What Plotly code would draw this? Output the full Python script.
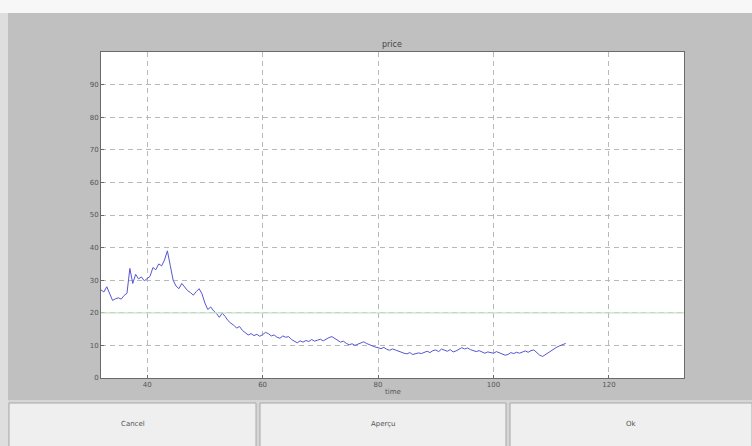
import numpy as np
import plotly.graph_objects as go

# price series sampled every half time unit
t_start = 32.0
t_step = 0.5
price = [
    27.0, 26.4, 28.0, 25.6, 23.8, 24.3, 24.6, 24.2, 25.3, 26.0,
    33.6, 29.0, 31.8, 30.4, 31.0, 29.8, 30.6, 31.2, 33.9, 33.2,
    35.0, 34.4, 36.2, 39.0, 34.5, 30.0, 28.2, 27.4, 29.0, 28.0,
    26.8, 26.2, 25.4, 26.5, 27.4, 25.8, 23.0, 21.0, 21.8, 20.6,
    19.8, 18.6, 19.9, 18.9, 17.6, 16.8, 16.2, 15.3, 15.8, 14.6,
    13.8, 13.2, 13.6, 13.0, 13.4, 12.8, 13.3, 14.0, 13.6, 12.9,
    13.2, 12.5, 12.2, 12.9, 12.5, 12.7, 11.8, 11.2, 10.8, 11.4,
    11.0, 11.5, 11.2, 11.8, 11.3, 11.6, 11.9, 11.4, 12.0, 12.4,
    12.7, 12.1, 11.6, 11.0, 11.3, 10.6, 10.2, 10.5, 10.0, 10.4,
    10.9, 11.1, 10.6, 10.2, 9.8, 9.5, 9.3, 9.0, 9.4, 8.8,
    8.5, 8.9, 8.6, 8.2, 8.0, 7.6, 7.4, 7.8, 7.2, 7.4,
    7.7, 7.5, 7.9, 8.2, 7.8, 8.4, 8.6, 8.1, 8.9, 8.5,
    8.2, 8.7, 8.0, 8.3, 8.8, 9.3, 8.9, 9.2, 8.7, 8.5,
    8.1, 8.4, 7.9, 7.6, 8.0, 7.8, 7.6, 8.1, 7.7, 7.3,
    7.0, 7.2, 7.8, 7.5, 7.9, 7.6, 8.0, 8.3, 7.9, 8.4,
    8.6, 7.8, 7.0, 6.6, 7.2, 7.8, 8.3, 8.8, 9.5, 9.9,
    10.3, 10.6,
]
time = t_start + t_step * np.arange(len(price))

x_ticks = [40, 60, 80, 100, 120]
y_ticks = [0, 10, 20, 30, 40, 50, 60, 70, 80, 90]
buttons = ["Cancel", "Aperçu", "Ok"]

W, H = 752, 446
L, R, T, B = 101, 684, 52, 378  # plot box in pixels


def px(x):
    return (x - L) / (R - L)


def py(y):
    return (B - y) / (B - T)


fig = go.Figure()
fig.add_trace(go.Scatter(
    x=time, y=price, mode="lines",
    line=dict(color="#5656d4", width=1),
    hoverinfo="skip", showlegend=False,
))

shapes = [
    # white strip along the top of the window
    dict(type="rect", xref="paper", yref="paper", x0=px(0), x1=px(W), y0=py(0), y1=py(13),
         fillcolor="#f7f7f7", line=dict(width=0), layer="below"),
    # light strip on the left edge
    dict(type="rect", xref="paper", yref="paper", x0=px(0), x1=px(8), y0=py(13), y1=py(H),
         fillcolor="#dedede", line=dict(width=0), layer="below"),
    # button bar background
    dict(type="rect", xref="paper", yref="paper", x0=px(8), x1=px(W), y0=py(400), y1=py(H),
         fillcolor="#d6d6d6", line=dict(width=0), layer="below"),
    # pale reference line at 20
    dict(type="line", xref="paper", yref="y", x0=0, x1=1, y0=20, y1=20,
         line=dict(color="#c4e4c4", width=1.2)),
]

button_spans = [(9, 256), (260, 506), (510, 752)]
annotations = []
for label, (a, b) in zip(buttons, button_spans):
    shapes.append(dict(type="rect", xref="paper", yref="paper",
                       x0=px(a), x1=px(b), y0=py(403), y1=py(H + 2),
                       fillcolor="#efefef", line=dict(color="#a8a8a8", width=1),
                       layer="below"))
    annotations.append(dict(text=label, xref="paper", yref="paper",
                            x=px((a + b) / 2), y=py(424), showarrow=False,
                            font=dict(size=7, color="#555555"),
                            xanchor="center", yanchor="middle"))

annotations.append(dict(text="price", xref="paper", yref="paper", x=px(392), y=py(45),
                        showarrow=False, font=dict(size=8, color="#444444"),
                        xanchor="center", yanchor="middle"))
annotations.append(dict(text="time", xref="paper", yref="paper", x=px(393), y=py(392),
                        showarrow=False, font=dict(size=7, color="#555555"),
                        xanchor="center", yanchor="middle"))

fig.update_layout(
    width=W, height=H,
    margin=dict(l=L, r=W - R, t=T, b=H - B, pad=0),
    paper_bgcolor="#c0c0c0",
    plot_bgcolor="#ffffff",
    font=dict(family="DejaVu Sans", size=7, color="#555555"),
    shapes=shapes,
    annotations=annotations,
    showlegend=False,
)
axis_style = dict(
    showgrid=True, gridcolor="#b8b8b8", griddash="5px,4px", gridwidth=1,
    showline=True, mirror=True, linecolor="#6a6a6a", linewidth=1,
    ticks="inside", ticklen=3, tickcolor="#6a6a6a", zeroline=False,
    tickfont=dict(size=7, color="#555555"),
)
fig.update_xaxes(range=[32, 133], tickvals=x_ticks,
                 ticktext=[str(v) for v in x_ticks], **axis_style)
fig.update_yaxes(range=[0, 100], tickvals=y_ticks,
                 ticktext=[str(v) for v in y_ticks], **axis_style)

fig.write_html("out.html")
